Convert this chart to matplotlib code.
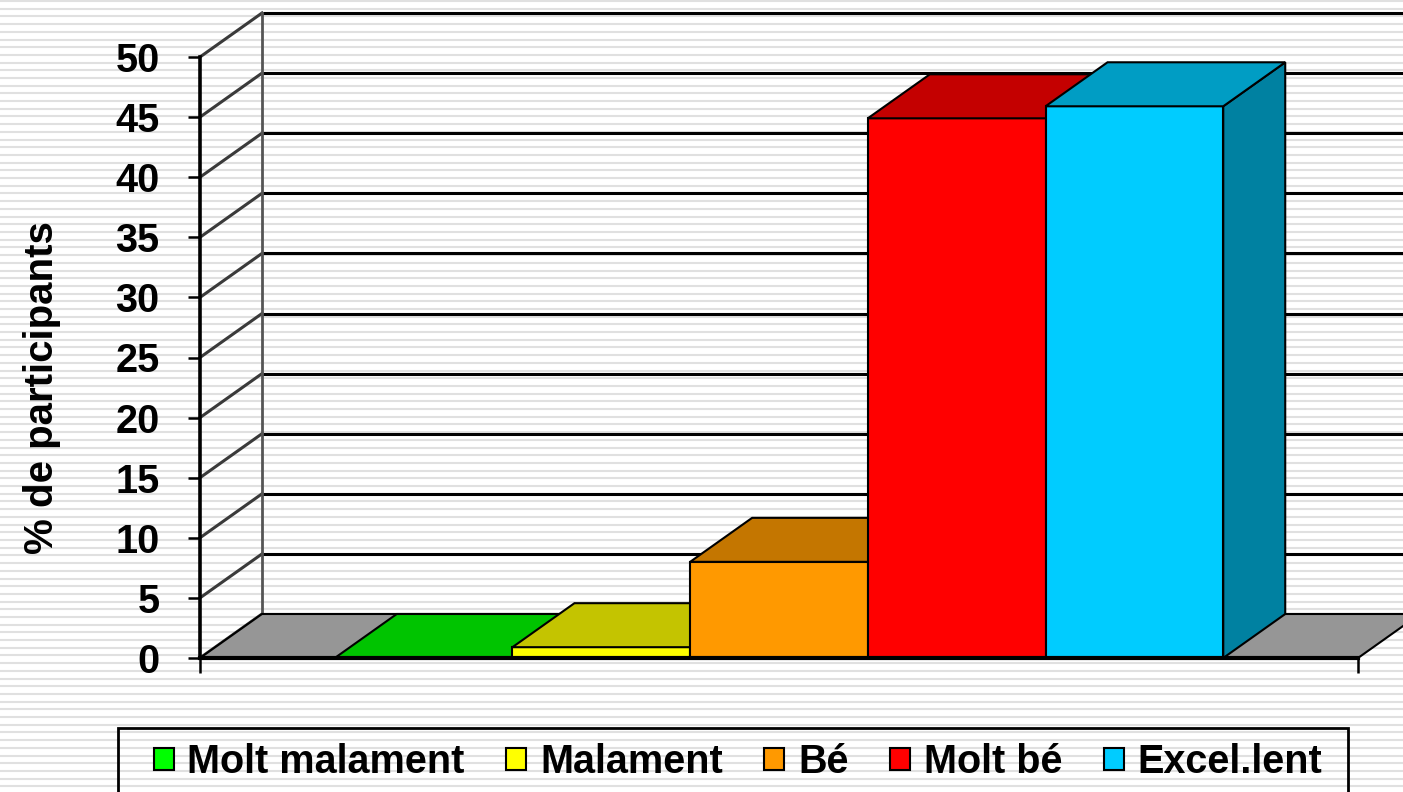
import matplotlib.pyplot as plt
import numpy as np
from matplotlib.patches import Polygon, Rectangle, Patch

plt.rcParams['font.family'] = ['Liberation Sans', 'DejaVu Sans']

# data
categories = ['Molt malament', 'Malament', 'Bé', 'Molt bé', 'Excel.lent']
values = [0, 0.9, 8.0, 44.9, 45.9]
colors = ['#00ff00', '#ffff00', '#ff9900', '#ff0000', '#00ccff']
yticks = list(range(0, 51, 5))


def shade(c, f):
    r, g, b = [int(c[i:i + 2], 16) for i in (1, 3, 5)]
    return (r * f / 255, g * f / 255, b * f / 255)


W, H = 1403, 792
fig = plt.figure(figsize=(W / 100, H / 100), dpi=100)

# striped slide background
bg = fig.add_axes([0, 0, 1, 1], zorder=-10)
bg.set_xlim(0, 1)
bg.set_ylim(H, 0)
bg.hlines(np.arange(1, H, 7.7), 0, 1, color='#e0e0e0', lw=1.5)
bg.axis('off')

# front plane of the chart
left, right, bottom, top = 200, 1358, 658, 57
ax = fig.add_axes([left / W, (H - bottom) / H, (right - left) / W, (bottom - top) / H])
ax.patch.set_alpha(0)

gap = 135 / 178
xmin, xmax = -gap, len(values) + gap
ax.set_xlim(xmin, xmax)
ax.set_ylim(0, 50)

px_x = (right - left) / (xmax - xmin)
px_y = (bottom - top) / 50
dx = 62 / px_x
dy = 44 / px_y

# floor
ax.add_patch(Polygon([(xmin, 0), (xmax, 0), (xmax + dx, dy), (xmin + dx, dy)],
                     closed=True, fc='#969696', ec='black', lw=1.5, clip_on=False, zorder=1))

# back wall gridlines and side wall
for v in yticks:
    ax.plot([xmin + dx, xmax + dx], [v + dy, v + dy], color='black', lw=2.2,
            clip_on=False, zorder=0.5, solid_capstyle='butt')
    ax.plot([xmin, xmin + dx], [v, v + dy], color='#3a3a3a', lw=2.2,
            clip_on=False, zorder=0.6)
ax.plot([xmin + dx, xmin + dx], [dy, 50 + dy], color='#555555', lw=2,
        clip_on=False, zorder=0.6)

# bars
pos = np.arange(len(values))
for i, (x0, v, c) in enumerate(zip(pos, values, colors)):
    x1 = x0 + 1
    z = 2 + i
    ax.add_patch(Polygon([(x1, 0), (x1 + dx, dy), (x1 + dx, v + dy), (x1, v)],
                         closed=True, fc=shade(c, 0.63), ec='black', lw=1.5,
                         clip_on=False, zorder=z))
    ax.add_patch(Rectangle((x0, 0), 1, v, fc=c, ec='black', lw=1.5,
                           clip_on=False, zorder=z))
    ax.add_patch(Polygon([(x0, v), (x1, v), (x1 + dx, v + dy), (x0 + dx, v + dy)],
                         closed=True, fc=shade(c, 0.77), ec='black', lw=1.5,
                         clip_on=False, zorder=z))

# axes
for s in ['top', 'right']:
    ax.spines[s].set_visible(False)
ax.spines['left'].set_linewidth(2.6)
ax.spines['bottom'].set_linewidth(3)
ax.spines['bottom'].set_zorder(20)
ax.spines['left'].set_zorder(20)

ax.set_yticks(yticks)
ax.set_yticklabels([str(t) for t in yticks], fontsize=28.5, fontweight='bold')
ax.tick_params(axis='y', length=9, width=1.8, pad=20, direction='out')
ax.set_xticks([xmin, xmax])
ax.set_xticklabels(['', ''])
ax.tick_params(axis='x', length=11, width=1.8, direction='out')

fig.text(42 / W, 1 - 388 / H, '% de participants', rotation=90, ha='center',
         va='center', fontsize=29, fontweight='bold')

# legend
handles = [Patch(facecolor=c, edgecolor='black', linewidth=1.5) for c in colors]
fig.legend(handles, categories, loc='center', bbox_to_anchor=(738 / W, 30 / H),
           ncol=5, frameon=False, prop={'size': 28.5, 'weight': 'bold'},
           handlelength=0.5, handleheight=0.5, handletextpad=0.35, columnspacing=1.05)
fig.add_artist(Rectangle((118 / W, -0.05), (1348 - 118) / W, (H - 728) / H + 0.05,
                         transform=fig.transFigure, fill=False, ec='black', lw=2))

fig.savefig('out.png', dpi=100)
